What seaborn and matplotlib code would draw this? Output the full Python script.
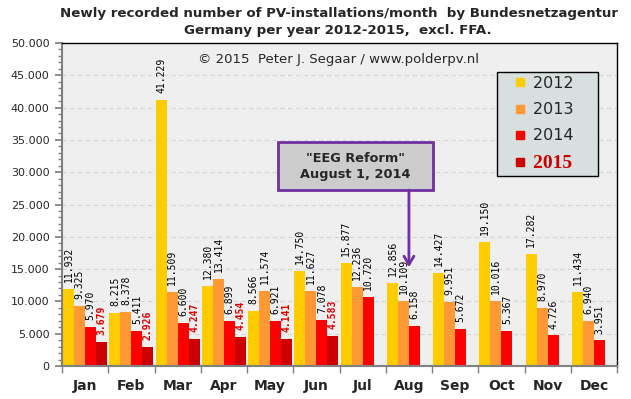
import numpy as np
import pandas as pd
import matplotlib
matplotlib.use("Agg")
import matplotlib.pyplot as plt
import seaborn as sns
from matplotlib.patches import Rectangle
from matplotlib.lines import Line2D
from matplotlib.ticker import MultipleLocator, FuncFormatter

# data
months = ["Jan", "Feb", "Mar", "Apr", "May", "Jun",
          "Jul", "Aug", "Sep", "Oct", "Nov", "Dec"]
years = ["2012", "2013", "2014", "2015"]
v2012 = [11932, 8215, 41229, 12380, 8566, 14750, 15877, 12856, 14427, 19150, 17282, 11434]
v2013 = [9325, 8378, 11509, 13414, 11574, 11627, 12236, 10109, 9951, 10016, 8970, 6940]
v2014 = [5970, 5411, 6600, 6899, 6921, 7078, 10720, 6158, 5672, 5367, 4726, 3951]
v2015 = [3679, 2926, 4247, 4454, 4141, 4583]

colors = {"2012": "#FFCC00", "2013": "#FF9933", "2014": "#FF0000", "2015": "#CC0000"}

rows = []
for year, vals in zip(years, [v2012, v2013, v2014, v2015]):
    for m, v in zip(months, vals):
        rows.append({"month": m, "year": year, "count": v})
df = pd.DataFrame(rows)


def dotfmt(v, pos=None):
    return f"{int(round(v)):,}".replace(",", ".")


sns.set_theme(style="ticks")
plt.rcParams['font.family'] = ['DejaVu Sans']

fig = plt.figure(figsize=(6.31, 3.99), dpi=100)
ax = fig.add_axes([0.0983, 0.0827, 0.8796, 0.8095])
ax.set_facecolor("#EFEFEF")

sns.barplot(data=df, x="month", y="count", hue="year", order=months, hue_order=years,
            palette=colors, width=0.95, gap=0, saturation=1, errorbar=None,
            linewidth=0, legend=False, ax=ax)

# value labels above the bars
for cont, year in zip(ax.containers, years):
    labels = [dotfmt(b.get_height()) for b in cont]
    if year == "2015":
        ax.bar_label(cont, labels=labels, rotation=90, padding=5, fontsize=7,
                     family="DejaVu Sans Mono", color="#E00000", fontweight="bold")
    else:
        ax.bar_label(cont, labels=labels, rotation=90, padding=5, fontsize=7,
                     family="DejaVu Sans Mono", color="black")

ax.set_xlim(-0.5, 11.5)
ax.set_ylim(0, 50000)
ax.set_xlabel("")
ax.set_ylabel("")

# y axis
ax.yaxis.set_major_locator(MultipleLocator(5000))
ax.yaxis.set_minor_locator(MultipleLocator(1000))
ax.yaxis.set_major_formatter(FuncFormatter(dotfmt))
ax.tick_params(axis="y", which="major", length=5, color="#808080", labelsize=8, pad=4)
ax.tick_params(axis="y", which="minor", length=3, color="#808080")
ax.yaxis.grid(True, which="major", linestyle=(0, (4, 3)), color="#D0D6D6", lw=0.8)
ax.set_axisbelow(True)

# x axis: labels at group centres, ticks at group boundaries
ax.set_xticks(range(12))
ax.set_xticklabels(months, fontsize=10, fontweight="bold")
ax.set_xticks(np.arange(-0.5, 12, 1), minor=True)
ax.tick_params(axis="x", which="major", length=0, pad=9)
ax.tick_params(axis="x", which="minor", length=5, color="#808080")

for s in ["left", "bottom"]:
    ax.spines[s].set_color("#808080")
    ax.spines[s].set_linewidth(1.5)
for s in ["top", "right"]:
    ax.spines[s].set_color("black")
    ax.spines[s].set_linewidth(1)

# titles, centred over the plot area
fig.text(0.538, 0.967, "Newly recorded number of PV-installations/month  by Bundesnetzagentur",
         ha="center", va="center", fontsize=9.6, fontweight="bold")
fig.text(0.536, 0.924, "Germany per year 2012-2015,  excl. FFA.",
         ha="center", va="center", fontsize=9.6, fontweight="bold")
fig.text(0.537, 0.852, "\u00a9 2015  Peter J. Segaar / www.polderpv.nl",
         ha="center", va="center", fontsize=9.5)

# EEG reform annotation
ax.add_patch(Rectangle((4.17, 27245), 3.35, 7430, facecolor="#CCCCCC",
                       edgecolor="#7030A0", lw=2, zorder=5))
ax.text(5.845, 30960, "\"EEG Reform\"\nAugust 1, 2014", ha="center", va="center",
        fontsize=9.3, fontweight="bold", linespacing=1.3, zorder=6)
ax.annotate("", xy=(7, 15300), xytext=(7, 27245),
            arrowprops=dict(arrowstyle="->,head_length=0.5,head_width=0.3",
                            color="#7030A0", lw=2, shrinkA=0, shrinkB=0), zorder=5)

# legend
handles = [Line2D([], [], marker="s", linestyle="none", markersize=6,
                  markerfacecolor=colors[y], markeredgecolor=colors[y]) for y in years]
leg_labels = [y + "    " for y in years]
leg = ax.legend(handles, leg_labels, loc="upper left", bbox_to_anchor=(0.784, 0.91),
                borderaxespad=0, fontsize=11.5, handlelength=2.35, handletextpad=-0.37,
                labelspacing=0.7, borderpad=0.25, fancybox=False, framealpha=1,
                facecolor="#D8DFDF", edgecolor="black")
leg.get_frame().set_linewidth(1)
t15 = leg.get_texts()[3]
t15.set_color("#CC0000")
t15.set_fontweight("bold")
t15.set_family("Liberation Serif")
t15.set_fontsize(14)

fig.savefig("out.png", dpi=100, facecolor="white")
